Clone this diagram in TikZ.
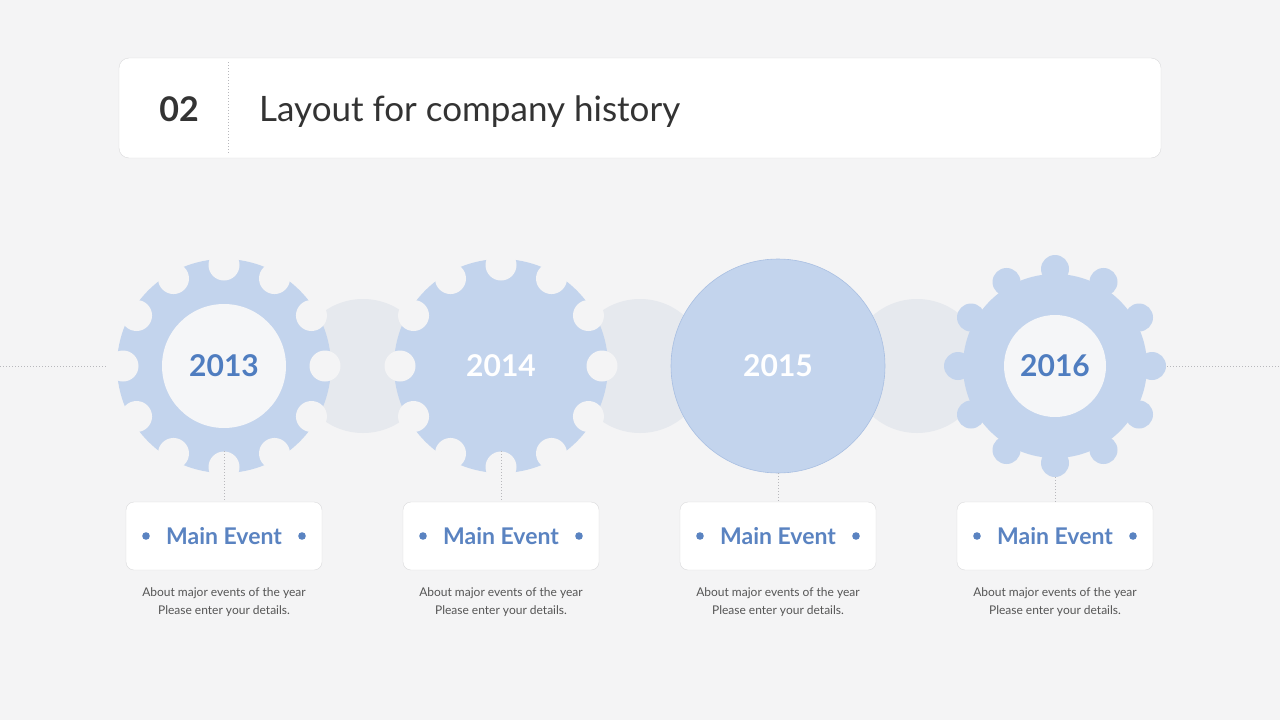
\documentclass[tikz,border=0pt]{standalone}
\usepackage{fontspec}
\setmainfont{Lato}
\usepackage{tikz}
\usetikzlibrary{positioning}

\definecolor{pagebg}{HTML}{F4F4F5}
\definecolor{gearblue}{HTML}{C3D4ED}
\definecolor{ringblue}{HTML}{A9BFE2}
\definecolor{linkgray}{HTML}{E6E9EE}
\definecolor{holefill}{HTML}{F5F6F8}
\definecolor{yearblue}{HTML}{4F7DC0}
\definecolor{eventblue}{HTML}{5A83C1}
\definecolor{inkgray}{HTML}{333333}
\definecolor{notegray}{HTML}{555555}
\definecolor{rulegray}{HTML}{B8B8BC}
\definecolor{edgegray}{HTML}{DADADC}

\tikzset{
  headbox/.style={draw=edgegray, fill=white, rounded corners=10pt, minimum width=1042pt, minimum height=100pt},
  eventbox/.style={draw=edgegray, fill=white, rounded corners=8pt, minimum width=196pt, minimum height=68pt,
    text=eventblue, font=\fontsize{23}{26}\selectfont\bfseries},
  yearin/.style={text=yearblue, font=\fontsize{30}{32}\selectfont\bfseries},
  yearon/.style={text=white, font=\fontsize{30}{32}\selectfont\bfseries},
  note/.style={text=notegray, align=center, inner sep=0pt, font=\fontsize{12}{18}\selectfont},
  guide/.style={draw=rulegray, line width=0.8pt, dash pattern=on 1pt off 2pt},
  tick/.style={draw=rulegray, line width=0.8pt, dash pattern=on 1pt off 2pt}
}

\begin{document}
\begin{tikzpicture}[x=1pt, y=-1pt]
\useasboundingbox (0,0) rectangle (1280,720);
\fill[pagebg] (0,0) rectangle (1280,720);

\coordinate (lineW) at (0,366);
\coordinate (lineE) at (1280,366);
\draw[guide] (lineW) -- (lineE);

\node[headbox] (head) at (640,108) {};
\node[text=inkgray, anchor=base, inner sep=0pt, font=\fontsize{34}{36}\selectfont\bfseries] (num) at (179,121) {02};
\node[text=inkgray, anchor=base west, inner sep=0pt, font=\fontsize{35}{40}\selectfont] (title) at (259,121) {Layout for company history};
\draw[guide] (228,62) -- (228,154);

\foreach \x in {363,640,917}
  \fill[linkgray] (\x,366) circle (67pt);

\foreach \x in {224,501} {
  \fill[gearblue] (\x,366) circle (107pt);
  \foreach \a in {0,30,...,330}
    \fill[pagebg] (\x,366) ++(\a:101) circle (15.5pt);
}
\fill[holefill] (224,366) circle (62pt);

\filldraw[draw=ringblue, fill=gearblue, line width=0.6pt] (778,366) circle (107pt);

\fill[gearblue] (1055,366) circle (92pt);
\foreach \a in {0,30,...,330}
  \fill[gearblue] (1055,366) ++(\a:97) circle (14pt);
\fill[holefill] (1055,366) circle (51pt);

\node[yearin] (y2013) at (224,366) {2013};
\node[yearon] (y2014) at (501,366) {2014};
\node[yearon] (y2015) at (778,366) {2015};
\node[yearin] (y2016) at (1055,366) {2016};

\coordinate (b2013) at (224,451);
\coordinate (b2014) at (501,451);
\coordinate (b2015) at (778,473);
\coordinate (b2016) at (1055,477);

\node[eventbox] (e2013) at (224,536) {Main Event};
\node[eventbox] (e2014) at (501,536) {Main Event};
\node[eventbox] (e2015) at (778,536) {Main Event};
\node[eventbox] (e2016) at (1055,536) {Main Event};

\foreach \e in {e2013,e2014,e2015,e2016} {
  \fill[eventblue] (\e.center) ++(-78,0) circle (3.8pt);
  \fill[eventblue] (\e.center) ++(78,0) circle (3.8pt);
}

\draw[tick] (b2013) -- (e2013);
\draw[tick] (b2014) -- (e2014);
\draw[tick] (b2015) -- (e2015);
\draw[tick] (b2016) -- (e2016);

\node[note, below=17pt of e2013] (n2013) {About major events of the year\\Please enter your details.};
\node[note, below=17pt of e2014] (n2014) {About major events of the year\\Please enter your details.};
\node[note, below=17pt of e2015] (n2015) {About major events of the year\\Please enter your details.};
\node[note, below=17pt of e2016] (n2016) {About major events of the year\\Please enter your details.};
\end{tikzpicture}
\end{document}
